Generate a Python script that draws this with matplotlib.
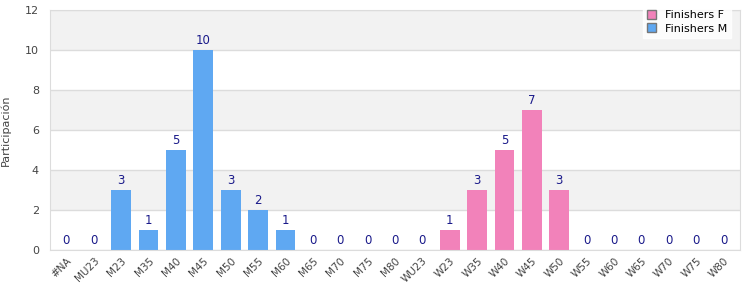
import numpy as np
import matplotlib.pyplot as plt
from matplotlib.patches import Patch

categorias = ['#NA', 'MU23', 'M23', 'M35', 'M40', 'M45', 'M50', 'M55', 'M60', 'M65',
              'M70', 'M75', 'M80', 'WU23', 'W23', 'W35', 'W40', 'W45', 'W50', 'W55',
              'W60', 'W65', 'W70', 'W75', 'W80']
finishers_m = [0, 0, 3, 1, 5, 10, 3, 2, 1, 0, 0, 0, 0, 0, 0, 0, 0, 0, 0, 0, 0, 0, 0, 0, 0]
finishers_f = [0, 0, 0, 0, 0, 0, 0, 0, 0, 0, 0, 0, 0, 0, 1, 3, 5, 7, 3, 0, 0, 0, 0, 0, 0]

azul = '#5fa8f2'
rosa = '#f282ba'

fig = plt.figure(figsize=(7.5, 3), dpi=100)
ax = fig.add_axes([50/750, 50/300, 690/750, 240/300])

x = np.arange(len(categorias))
m = np.array(finishers_m)
f = np.array(finishers_f)

# bandas alternas de fondo
for y0 in range(0, 12, 2):
    if (y0 // 2) % 2 == 1:
        ax.axhspan(y0, y0 + 2, color='#f2f2f2', zorder=0, lw=0)
    ax.axhline(y0, color='#dcdcdc', lw=1, zorder=1)
ax.axhline(12, color='#dcdcdc', lw=1, zorder=1)

ax.bar(x, m, width=0.72, color=azul, zorder=2)
ax.bar(x, f, bottom=m, width=0.72, color=rosa, zorder=2)

total = m + f
for xi, t in zip(x, total):
    ax.text(xi, t + 0.15, str(t), ha='center', va='bottom', fontsize=8.5, color='#1a1a8a', zorder=3)

ax.set_xlim(-0.6, len(categorias) - 0.4)
ax.set_ylim(0, 12)
ax.set_yticks(range(0, 13, 2))
ax.set_xticks(x)
ax.set_xticklabels(categorias, rotation=45, ha='right', rotation_mode='anchor', fontsize=7.5, color='#444444')
ax.tick_params(axis='y', labelsize=8, labelcolor='#444444', length=0, pad=8)
ax.tick_params(axis='x', length=0, pad=4)
for s in ax.spines.values():
    s.set_color('#dcdcdc')
ax.set_ylabel('Participación', fontsize=8, color='#444444', labelpad=10)

handles = [Patch(facecolor=rosa, edgecolor='#777777', label='Finishers F'),
           Patch(facecolor=azul, edgecolor='#777777', label='Finishers M')]
leg = fig.legend(handles=handles, loc='upper right', bbox_to_anchor=(737/750, 1.0), fontsize=8,
                 frameon=True, fancybox=False, edgecolor='white', handlelength=0.8, handleheight=0.8,
                 borderpad=0.4, labelspacing=0.3, handletextpad=0.8)
leg.get_frame().set_facecolor('white')
leg.set_zorder(5)

fig.savefig('out.png', dpi=100)
